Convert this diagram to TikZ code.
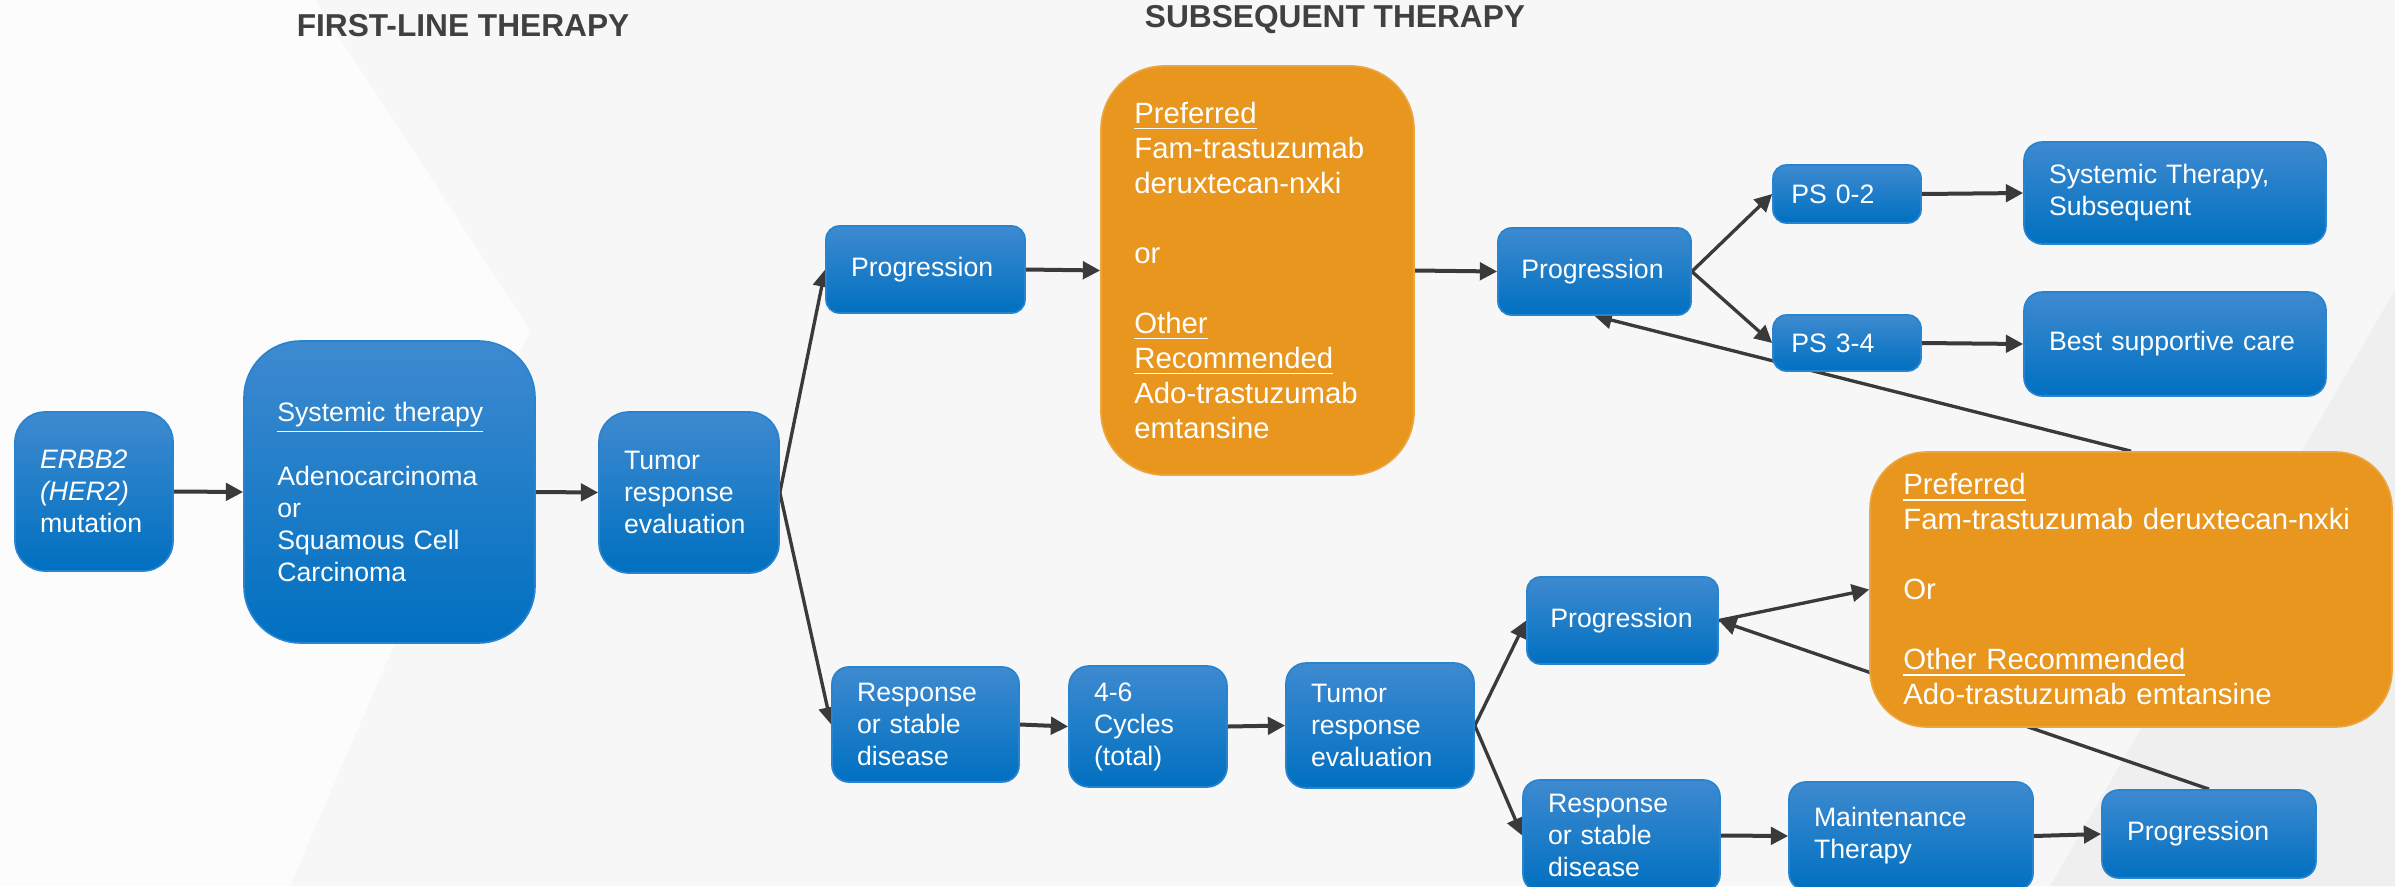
\documentclass[tikz,border=0pt]{standalone}
\usepackage{fontspec}
\setmainfont{Liberation Sans}
\usetikzlibrary{arrows.meta}

\definecolor{boxtop}{RGB}{62,138,208}
\definecolor{boxbot}{RGB}{0,112,192}
\definecolor{boxline}{RGB}{40,132,208}
\definecolor{drugcol}{RGB}{232,150,30}
\definecolor{arrowcol}{RGB}{58,58,58}
\definecolor{titlecol}{RGB}{64,64,64}
\definecolor{bgbase}{RGB}{247,247,247}
\definecolor{bglight}{RGB}{252,252,252}
\definecolor{bgdark}{RGB}{239,239,239}

\pgfdeclarelayer{bg}
\pgfdeclarelayer{edges}
\pgfsetlayers{bg,edges,main}

\begin{document}
\begin{tikzpicture}[x=0.3pt,y=-0.3pt,
  pbox/.style={rounded corners=4pt, top color=boxtop, bottom color=boxbot,
    draw=boxline, line width=0.5pt, text=white, align=left,
    inner xsep=7.5pt, inner ysep=0pt, font=\fontsize{8}{9.6}\selectfont},
  rxbox/.style={rounded corners=19pt, fill=drugcol, draw=drugcol!85!white,
    line width=0.5pt, text=white, align=left, inner xsep=10pt, inner ysep=0pt,
    font=\fontsize{8.8}{10.5}\selectfont},
  flow/.style={draw=arrowcol, line width=1.2pt, -{Triangle[length=5.2pt,width=5.2pt]}},
  fork/.style={flow, line width=1pt},
  head/.style={font=\fontsize{9.5}{11}\selectfont\bfseries, text=titlecol}]
  \useasboundingbox (0,0) rectangle (2395,886);

  % Background
  \begin{pgfonlayer}{bg}
    \fill[bgbase] (0,0) rectangle (2395,886);
    \fill[bglight] (0,0) -- (315,0) -- (530,330) -- (290,886) -- (0,886) -- cycle;
    \fill[bgdark] (2395,290) -- (2395,886) -- (2050,886) -- cycle;
  \end{pgfonlayer}

  % Headings
  \node[head] (hfirst) at (463,26) {FIRST-LINE THERAPY};
  \node[head] (hsub) at (1335,20) {SUBSEQUENT THERAPY};

  % First-line therapy
  \node[pbox, rounded corners=9pt, text width=32.4pt, minimum height=47.7pt] (erbb) at (94,491.5)
    {\textit{ERBB2}\\\textit{(HER2)}\\mutation};
  \node[pbox, rounded corners=17pt, inner xsep=10pt, text width=67.3pt, minimum height=90.6pt] (sys1) at (389.5,492)
    {\underline{Systemic therapy}\\[9.6pt]Adenocarcinoma\\or\\Squamous Cell\\Carcinoma};
  \node[pbox, rounded corners=9pt, text width=39pt, minimum height=48.3pt] (tre1) at (689,492.5)
    {Tumor\\response\\evaluation};

  % Upper branch
  \node[pbox, text width=44.7pt, minimum height=26.1pt] (prog1) at (925.5,269.5) {Progression};
  \node[rxbox, text width=73.9pt, minimum height=122.7pt] (ora1) at (1257.5,270.5)
    {\underline{Preferred}\\Fam-trastuzumab\\deruxtecan-nxki\\[10.5pt]or\\[10.5pt]\underline{Other}\\\underline{Recommended}\\Ado-trastuzumab\\emtansine};
  \node[pbox, inner xsep=7pt, text width=43.9pt, minimum height=26.1pt] (prog2) at (1594.5,271.5) {Progression};
  \node[pbox, inner xsep=5.5pt, text width=33.4pt, minimum height=17.4pt] (ps02) at (1847,194) {PS 0-2};
  \node[pbox, inner xsep=5.5pt, text width=33.4pt, minimum height=16.8pt] (ps34) at (1847,343) {PS 3-4};
  \node[pbox, rounded corners=5.5pt, text width=75.6pt, minimum height=30.6pt] (syst2) at (2175,193)
    {Systemic Therapy,\\Subsequent};
  \node[pbox, rounded corners=5.5pt, text width=75.6pt, minimum height=31.2pt] (bsc) at (2175,344)
    {Best supportive care};

  % Lower branch
  \node[pbox, rounded corners=5pt, text width=41.1pt, minimum height=34.5pt] (resp1) at (925.5,724.5)
    {Response\\or stable\\disease};
  \node[pbox, rounded corners=6pt, text width=32.4pt, minimum height=36.3pt] (cyc) at (1148,726.5)
    {4-6\\Cycles\\(total)};
  \node[pbox, rounded corners=6pt, text width=41.4pt, minimum height=37.5pt] (tre2) at (1380,725.5)
    {Tumor\\response\\evaluation};
  \node[pbox, inner xsep=7pt, text width=43.3pt, minimum height=26.1pt] (prog3) at (1622.5,620.5) {Progression};
  \node[rxbox, rounded corners=17pt, text width=136.6pt, minimum height=82.5pt] (ora2) at (2131,589.5)
    {\underline{Preferred}\\Fam-trastuzumab deruxtecan-nxki\\[10.5pt]Or\\[10.5pt]\underline{Other Recommended}\\Ado-trastuzumab emtansine};
  \node[pbox, rounded corners=5pt, text width=44.1pt, minimum height=33.3pt] (resp2) at (1621.5,835.5)
    {Response\\or stable\\disease};
  \node[pbox, rounded corners=5pt, text width=58.2pt, minimum height=32.4pt] (maint) at (1911,836)
    {Maintenance\\Therapy};
  \node[pbox, rounded corners=5pt, text width=49.2pt, minimum height=26.4pt] (prog4) at (2209,834) {Progression};

  % Connectors
  \begin{pgfonlayer}{edges}
    \draw[flow] (erbb.east) -- (sys1.west);
    \draw[flow] (sys1.east) -- (tre1.west);
    \draw[fork] (tre1.east) -- (prog1.west);
    \draw[fork] (tre1.east) -- (resp1.west);

    \draw[flow] (prog1.east) -- (ora1.west);
    \draw[flow] (ora1.east) -- (prog2.west);
    \draw[fork] (prog2.east) -- (ps02.west);
    \draw[fork] (prog2.east) -- (ps34.west);
    \draw[flow] (ps02.east) -- (syst2.west);
    \draw[flow] (ps34.east) -- (bsc.west);
    \draw[fork] (ora2.north) -- (prog2.south);

    \draw[flow] (resp1.east) -- (cyc.west);
    \draw[flow] (cyc.east) -- (tre2.west);
    \draw[fork] (tre2.east) -- (prog3.west);
    \draw[fork] (tre2.east) -- (resp2.west);
    \draw[fork] (prog3.east) -- (ora2.west);
    \draw[flow] (resp2.east) -- (maint.west);
    \draw[flow] (maint.east) -- (prog4.west);
    \draw[fork] (prog4.north) -- (prog3.east);
  \end{pgfonlayer}
\end{tikzpicture}
\end{document}
